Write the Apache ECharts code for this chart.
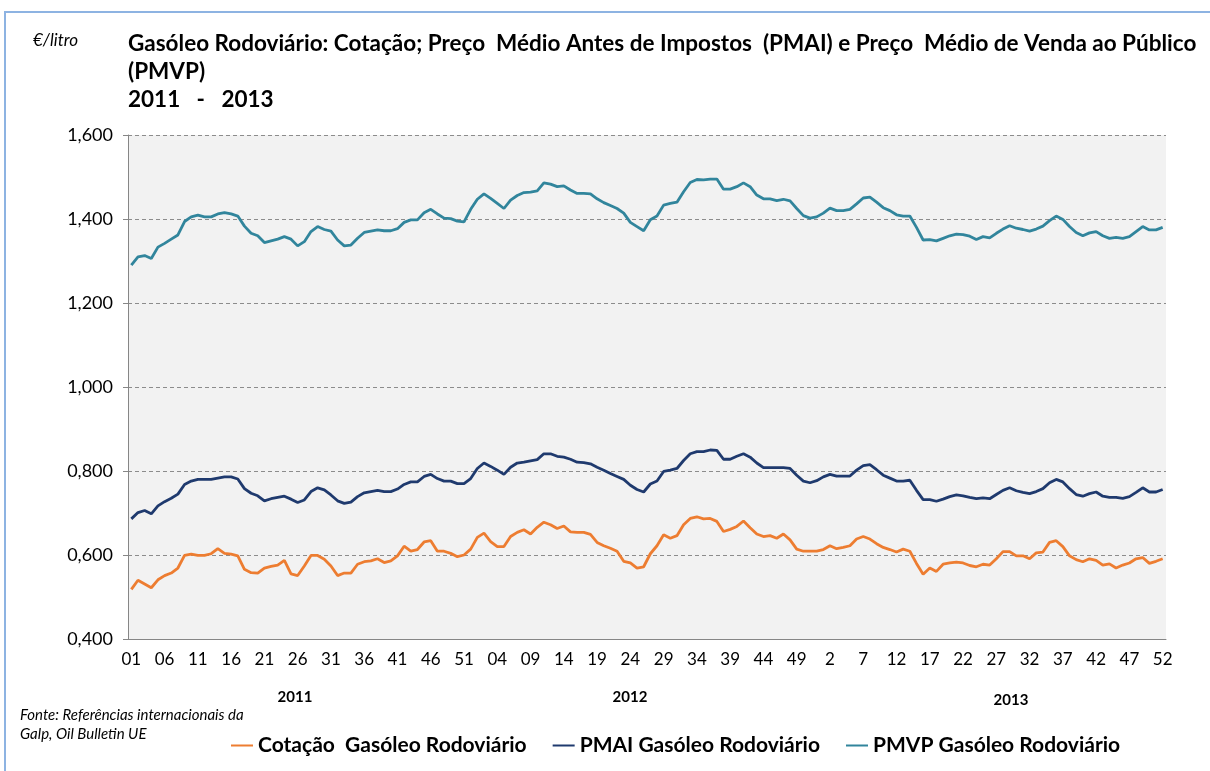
<!DOCTYPE html>
<html>
<head>
<meta charset="utf-8">
<script src="https://cdn.jsdelivr.net/npm/echarts@6/dist/echarts.min.js"></script>
<style>
  html, body { margin: 0; padding: 0; background: #fff; }
  #chart { width: 1210px; height: 771px; }
</style>
</head>
<body>
<div id="chart"></div>
<script>
// weeks: 2011 (01..52), 2012 (01..52), 2013 (1..52)
const weeks2011 = Array.from({ length: 52 }, (_, i) => String(i + 1).padStart(2, "0"));
const weeks2012 = Array.from({ length: 52 }, (_, i) => String(i + 1).padStart(2, "0"));
const weeks2013 = Array.from({ length: 52 }, (_, i) => String(i + 1));
const categories = weeks2011.concat(weeks2012, weeks2013);

const yearLabels = ["2011", "2012", "2013"];
const seriesNames = ["Cotação  Gasóleo Rodoviário", "PMAI Gasóleo Rodoviário", "PMVP Gasóleo Rodoviário"];

const cotacao = [
  0.518, 0.540, 0.531, 0.522, 0.541, 0.551, 0.557, 0.569, 0.599, 0.602,
  0.599, 0.599, 0.603, 0.615, 0.604, 0.602, 0.598, 0.566, 0.558, 0.557,
  0.569, 0.573, 0.576, 0.587, 0.555, 0.551, 0.574, 0.599, 0.599, 0.590,
  0.574, 0.551, 0.557, 0.557, 0.578, 0.584, 0.586, 0.591, 0.582, 0.586,
  0.598, 0.621, 0.609, 0.613, 0.631, 0.634, 0.609, 0.609, 0.604, 0.596,
  0.600, 0.614, 0.642, 0.652, 0.632, 0.620, 0.620, 0.644, 0.654, 0.660,
  0.650, 0.666, 0.678, 0.672, 0.663, 0.669, 0.655, 0.654, 0.654, 0.649,
  0.630, 0.622, 0.616, 0.609, 0.585, 0.581, 0.569, 0.572, 0.603, 0.622,
  0.648, 0.640, 0.646, 0.672, 0.687, 0.691, 0.686, 0.687, 0.680, 0.656,
  0.661, 0.668, 0.681, 0.665, 0.650, 0.644, 0.646, 0.640, 0.650, 0.636,
  0.614, 0.609, 0.609, 0.609,
  0.613, 0.622, 0.615, 0.618, 0.622, 0.638, 0.644, 0.638, 0.627, 0.618,
  0.613, 0.607, 0.614, 0.609, 0.580, 0.554, 0.569, 0.561, 0.578, 0.581,
  0.583, 0.581, 0.575, 0.572, 0.578, 0.576, 0.591, 0.608, 0.608, 0.598,
  0.598, 0.591, 0.605, 0.607, 0.630, 0.634, 0.620, 0.598, 0.589, 0.584,
  0.591, 0.587, 0.576, 0.579, 0.569, 0.576, 0.581, 0.591, 0.594, 0.580,
  0.585, 0.591
];

const pmai = [
  0.686, 0.701, 0.706, 0.698, 0.717, 0.727, 0.735, 0.745, 0.768, 0.776,
  0.780, 0.780, 0.780, 0.783, 0.786, 0.786, 0.781, 0.758, 0.747, 0.741,
  0.729, 0.734, 0.737, 0.740, 0.733, 0.725, 0.731, 0.751, 0.760, 0.755,
  0.743, 0.729, 0.723, 0.726, 0.739, 0.748, 0.751, 0.754, 0.751, 0.751,
  0.757, 0.768, 0.774, 0.774, 0.787, 0.792, 0.782, 0.776, 0.776, 0.770,
  0.770, 0.782, 0.806, 0.819, 0.811, 0.802, 0.792, 0.809, 0.819, 0.821,
  0.824, 0.827, 0.841, 0.841, 0.835, 0.833, 0.828, 0.821, 0.820, 0.817,
  0.809, 0.802, 0.794, 0.787, 0.780, 0.766, 0.756, 0.750, 0.769, 0.776,
  0.799, 0.802, 0.806, 0.825, 0.841, 0.846, 0.846, 0.850, 0.849, 0.828,
  0.828, 0.835, 0.841, 0.833, 0.819, 0.808, 0.808, 0.808, 0.808, 0.806,
  0.790, 0.776, 0.772, 0.777,
  0.786, 0.792, 0.788, 0.788, 0.788, 0.802, 0.813, 0.815, 0.803, 0.790,
  0.783, 0.776, 0.776, 0.778, 0.754, 0.732, 0.732, 0.728, 0.733, 0.739,
  0.743, 0.741, 0.737, 0.734, 0.736, 0.734, 0.744, 0.754, 0.760, 0.753,
  0.749, 0.746, 0.751, 0.758, 0.772, 0.780, 0.774, 0.758, 0.744, 0.740,
  0.746, 0.750, 0.740, 0.737, 0.737, 0.735, 0.739, 0.749, 0.760, 0.750,
  0.750, 0.756
];

const pmvp = [
  1.290, 1.310, 1.313, 1.306, 1.333, 1.342, 1.352, 1.362, 1.394, 1.405,
  1.409, 1.405, 1.405, 1.412, 1.415, 1.412, 1.407, 1.383, 1.366, 1.360,
  1.344, 1.348, 1.352, 1.358, 1.352, 1.336, 1.346, 1.370, 1.382, 1.375,
  1.371, 1.350, 1.336, 1.338, 1.354, 1.368, 1.371, 1.374, 1.372, 1.372,
  1.377, 1.392, 1.398, 1.398, 1.415, 1.423, 1.412, 1.402, 1.401, 1.395,
  1.393, 1.423, 1.447, 1.460, 1.449, 1.437, 1.425, 1.445, 1.456, 1.463,
  1.464, 1.467, 1.486, 1.483, 1.477, 1.479, 1.469, 1.461, 1.461, 1.460,
  1.448, 1.439, 1.432, 1.425, 1.414, 1.392, 1.382, 1.372, 1.398, 1.407,
  1.433, 1.437, 1.440, 1.465, 1.487, 1.494, 1.493, 1.495, 1.495, 1.471,
  1.471, 1.477, 1.486, 1.477, 1.457, 1.448, 1.448, 1.444, 1.447, 1.443,
  1.425, 1.408, 1.402, 1.405,
  1.414, 1.426, 1.420, 1.420, 1.423, 1.436, 1.450, 1.452, 1.440, 1.427,
  1.420, 1.410, 1.407, 1.407, 1.380, 1.350, 1.351, 1.348, 1.354, 1.360,
  1.364, 1.363, 1.359, 1.351, 1.358, 1.355, 1.366, 1.376, 1.384, 1.378,
  1.375, 1.371, 1.376, 1.383, 1.396, 1.407, 1.399, 1.382, 1.368, 1.360,
  1.367, 1.370, 1.360, 1.354, 1.356, 1.354, 1.358, 1.370, 1.382, 1.374,
  1.374, 1.380
];

const FONT = "Lato, 'Open Sans', sans-serif";
const chart = echarts.init(document.getElementById("chart"));

const option = {
  backgroundColor: "#fff",
  animation: false,
  textStyle: { fontFamily: FONT },
  grid: { left: 128, right: 44, top: 135, bottom: 132, show: true, backgroundColor: "#f2f2f2", borderWidth: 0 },
  legend: {
    bottom: 10,
    left: 226,
    itemWidth: 22,
    itemHeight: 2,
    itemGap: 26,
    icon: "rect",
    textStyle: { fontSize: 21, fontWeight: "bold", color: "#000", fontFamily: FONT },
    data: seriesNames
  },
  xAxis: {
    type: "category",
    data: categories,
    boundaryGap: true,
    axisLine: { lineStyle: { color: "#868686", width: 1 } },
    axisTick: { interval: 0, length: 5, lineStyle: { color: "#868686" } },
    axisLabel: { interval: 4, fontSize: 17, color: "#000", margin: 12 },
    splitLine: { show: false }
  },
  yAxis: {
    type: "value",
    min: 0.4,
    max: 1.6,
    interval: 0.2,
    axisLine: { show: true, lineStyle: { color: "#868686" } },
    axisTick: { show: true, length: 5, lineStyle: { color: "#868686" } },
    axisLabel: { fontSize: 18, color: "#000", margin: 15, formatter: v => v.toFixed(3).replace(".", ",") },
    splitLine: { lineStyle: { color: "#8c8c8c", type: [4, 3], width: 1 } }
  },
  series: [
    { name: seriesNames[0], type: "line", data: cotacao, showSymbol: false, lineStyle: { width: 2.8, color: "#ed7d31" }, itemStyle: { color: "#ed7d31" } },
    { name: seriesNames[1], type: "line", data: pmai, showSymbol: false, lineStyle: { width: 2.8, color: "#1f3a6e" }, itemStyle: { color: "#1f3a6e" } },
    { name: seriesNames[2], type: "line", data: pmvp, showSymbol: false, lineStyle: { width: 2.8, color: "#31859c" }, itemStyle: { color: "#31859c" } }
  ],
  graphic: [
    { type: "rect", shape: { x: 5, y: 12, width: 1220, height: 780 }, style: { fill: "none", stroke: "#8db3e2", lineWidth: 2 }, silent: true },
    { type: "text", left: 33, top: 32, style: { text: "€/litro", font: "italic 17px " + FONT, fill: "#000" } },
    { type: "text", left: 128, top: 30, style: { text: "Gasóleo Rodoviário: Cotação; Preço  Médio Antes de Impostos  (PMAI) e Preço  Médio de Venda ao Público\n(PMVP)\n2011   -   2013", font: "bold 22.5px " + FONT, lineHeight: 28, fill: "#000" } },
    { type: "text", left: 20, top: 706, style: { text: "Fonte: Referências internacionais da\nGalp, Oil Bulletin UE", font: "italic 15px " + FONT, lineHeight: 19, fill: "#000" } },
    { type: "text", x: 295, y: 697, style: { text: yearLabels[0], font: "bold 15px " + FONT, fill: "#000", align: "center", verticalAlign: "middle" } },
    { type: "text", x: 630, y: 697, style: { text: yearLabels[1], font: "bold 15px " + FONT, fill: "#000", align: "center", verticalAlign: "middle" } },
    { type: "text", x: 1011, y: 700, style: { text: yearLabels[2], font: "bold 15px " + FONT, fill: "#000", align: "center", verticalAlign: "middle" } }
  ]
};

chart.setOption(option);
</script>
</body>
</html>
